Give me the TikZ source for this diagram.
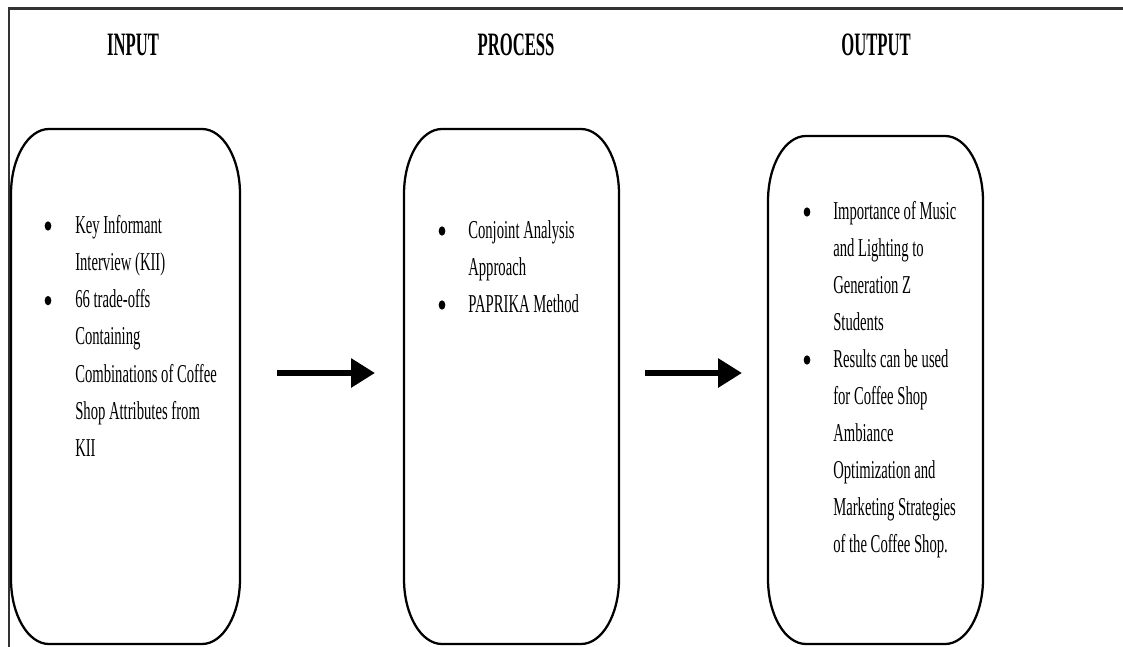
\documentclass[tikz,border=0pt]{standalone}
\usepackage{fontspec}
\usetikzlibrary{arrows.meta,shapes.geometric}
\newfontfamily\bodyfont{Liberation Serif}[FakeStretch=0.57]
\newfontfamily\titlefont{Liberation Serif}[FakeStretch=0.51]
\tikzset{
  boxline/.style={draw=black, line width=1.7pt},
  frameline/.style={draw=black!80, line width=1.6pt},
  body/.style={anchor=base west, inner sep=0pt, font=\bodyfont\fontsize{19.3}{23}\selectfont},
  bul/.style={ellipse, fill=black, inner sep=0pt, minimum width=5pt, minimum height=7pt},
  ttl/.style={anchor=base, inner sep=0pt, font=\titlefont\bfseries\fontsize{24.5}{29}\selectfont},
  flowarrow/.style={line width=4.5pt, -{Triangle[length=18pt,width=21pt]}}
}
\newcommand\ovbox[4]{%
  \draw[boxline] (#1,#2+65) .. controls (#1,#2+29.1) and (#1+17,#2) .. (#1+38,#2)
    -- (#3-38,#2) .. controls (#3-17,#2) and (#3,#2+29.1) .. (#3,#2+65)
    -- (#3,#4-65) .. controls (#3,#4-29.1) and (#3-17,#4) .. (#3-38,#4)
    -- (#1+38,#4) .. controls (#1+17,#4) and (#1,#4-29.1) .. (#1,#4-65) -- cycle;}
\begin{document}
\begin{tikzpicture}[x=0.75pt,y=-0.75pt]
\useasboundingbox (0,0) rectangle (1123,646);
% frame
\draw[frameline] (9,650) -- (9,8.5) -- (1130,8.5);
% titles
\node[ttl] (tin) at (133,55) {INPUT};
\node[ttl] (tpr) at (516,55) {PROCESS};
\node[ttl] (tou) at (876,55) {OUTPUT};
% boxes
\ovbox{11}{129}{240}{644}
\ovbox{404}{129}{619}{644}
\ovbox{768}{136}{983}{644}
% input text
\node[bul] (ib1) at (48,226) {};
\node[body] (i1) at (75,233) {Key Informant};
\node[body] (i2) at (75,270.3) {Interview (KII)};
\node[bul] (ib2) at (48,300.6) {};
\node[body] (i3) at (75,307.6) {66 trade-offs};
\node[body] (i4) at (75,344.9) {Containing};
\node[body] (i5) at (75,382.2) {Combinations of Coffee};
\node[body] (i6) at (75,419.5) {Shop Attributes from};
\node[body] (i7) at (75,456.8) {KII};
% process text
\node[bul] (pb1) at (442,231) {};
\node[body] (p1) at (468,238) {Conjoint Analysis};
\node[body] (p2) at (468,275) {Approach};
\node[bul] (pb2) at (442,305) {};
\node[body] (p3) at (468,312) {PAPRIKA Method};
% output text
\node[bul] (ob1) at (807,212) {};
\node[body] (o1) at (833,219) {Importance of Music};
\node[body] (o2) at (833,256) {and Lighting to};
\node[body] (o3) at (833,293) {Generation Z};
\node[body] (o4) at (833,330) {Students};
\node[bul] (ob2) at (807,360) {};
\node[body] (o5) at (833,367) {Results can be used};
\node[body] (o6) at (833,404) {for Coffee Shop};
\node[body] (o7) at (833,441) {Ambiance};
\node[body] (o8) at (833,478) {Optimization and};
\node[body] (o9) at (833,515) {Marketing Strategies};
\node[body] (o10) at (833,552) {of the Coffee Shop.};
% arrows
\coordinate (a1s) at (277,373);
\coordinate (a1e) at (375,373);
\coordinate (a2s) at (645,373);
\coordinate (a2e) at (742,373);
\draw[flowarrow] (a1s) -- (a1e);
\draw[flowarrow] (a2s) -- (a2e);
\end{tikzpicture}
\end{document}
